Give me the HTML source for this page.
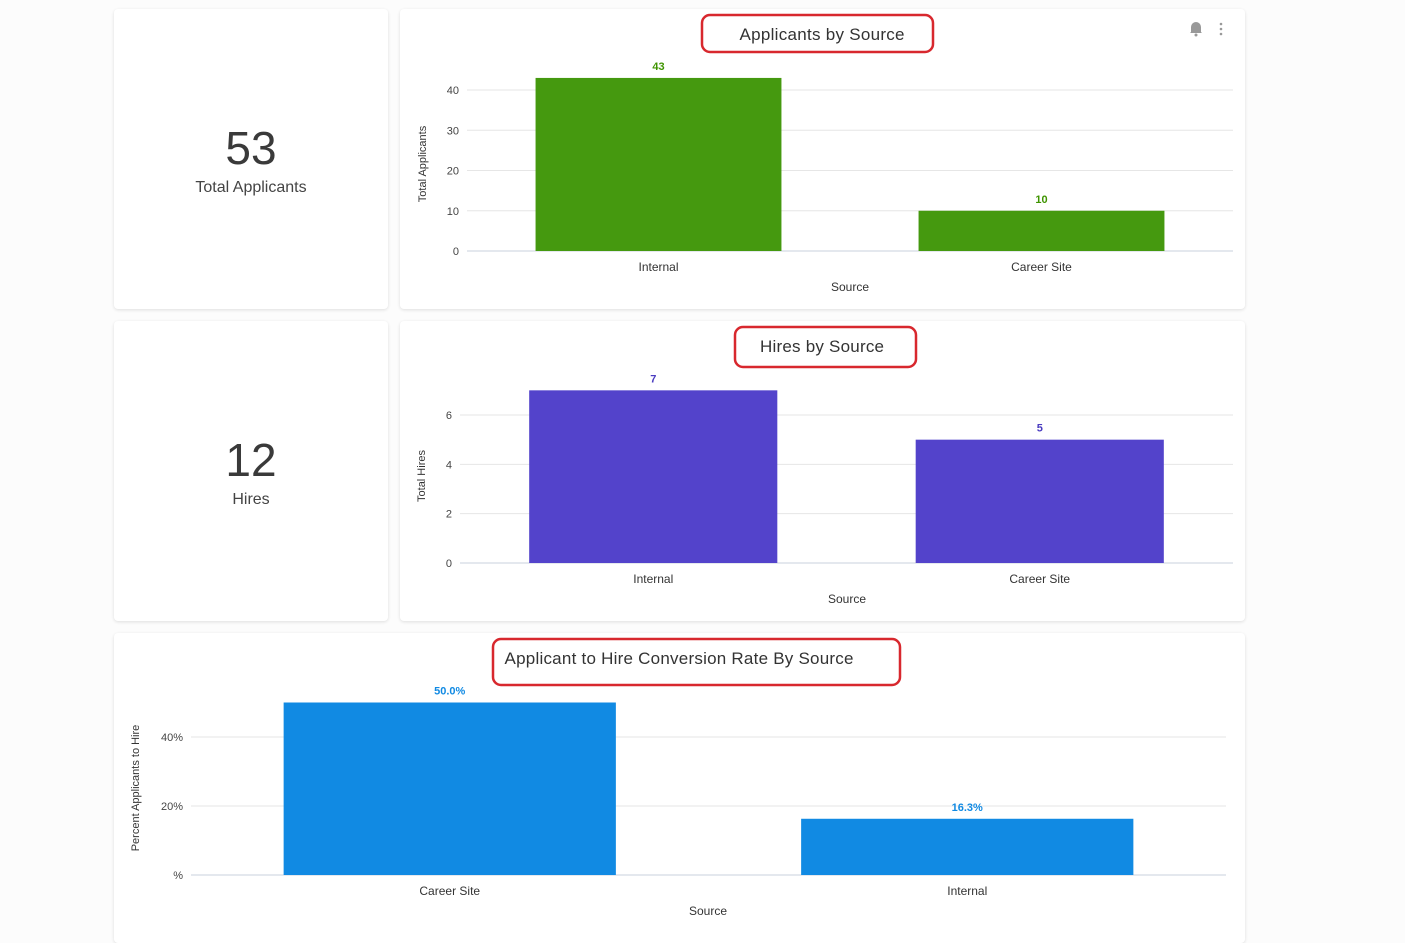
<!DOCTYPE html>
<html><head><meta charset="utf-8">
<style>
body{margin:0;width:1405px;height:927px;background:#fcfcfc;font-family:"Liberation Sans",sans-serif;overflow:hidden;position:relative}
.card{position:absolute;background:#fff;border-radius:4px;box-shadow:0 1px 3px rgba(0,0,0,0.12)}
.kpi{text-align:center;color:#333}
.kpi .num{font-size:46px;color:#3a3a3a;line-height:50px}
.kpi .lbl{font-size:16px;color:#444;margin-top:6px}
svg{position:absolute;left:0;top:0}
</style></head><body>
<div class="card kpi" style="left:114px;top:9px;width:274px;height:300px">
  <div class="num" style="margin-top:114px">53</div>
  <div class="lbl">Total Applicants</div>
</div>
<div class="card" style="left:400px;top:9px;width:845px;height:300px"></div>
<div class="card kpi" style="left:114px;top:321px;width:274px;height:300px">
  <div class="num" style="margin-top:114px">12</div>
  <div class="lbl">Hires</div>
</div>
<div class="card" style="left:400px;top:321px;width:845px;height:300px"></div>
<div class="card" style="left:114px;top:633px;width:1131px;height:310px"></div>

<svg id="s" width="1405" height="927" font-family="Liberation Sans, sans-serif">
  <rect x="702" y="15" width="231" height="37" rx="8" fill="none" stroke="#d8282e" stroke-width="2.5"/>
  <text x="822" y="40" text-anchor="middle" font-size="17" fill="#333" textLength="165">Applicants by Source</text>
  <rect x="735" y="327" width="181" height="40" rx="8" fill="none" stroke="#d8282e" stroke-width="2.5"/>
  <text x="822" y="352" text-anchor="middle" font-size="17" fill="#333" textLength="124">Hires by Source</text>
  <rect x="493" y="639" width="407" height="46" rx="8" fill="none" stroke="#d8282e" stroke-width="2.5"/>
  <text x="679" y="664" text-anchor="middle" font-size="17" fill="#333" textLength="349">Applicant to Hire Conversion Rate By Source</text>
  <g fill="#999">
    <path d="M1191 32 L1191 27 A5 5 0 0 1 1201 27 L1201 32 L1202 33 L1190 33 Z"/>
    <circle cx="1196" cy="35" r="1.5"/>
  </g>
  <g fill="#999">
    <circle cx="1221" cy="24" r="1.3"/><circle cx="1221" cy="29" r="1.3"/><circle cx="1221" cy="34" r="1.3"/>
  </g>
</svg>
<script>
const appCategories=["Internal","Career Site"];
const appValues=[43,10];
const appTicks=[0,10,20,30,40];
const hireCategories=["Internal","Career Site"];
const hireValues=[7,5];
const hireTicks=[0,2,4,6];
const convCategories=["Career Site","Internal"];
const convValues=[50.0,16.3];
const convTicks=[0,20,40];
const convTickLabels=["%","20%","40%"];
const convValueLabels=["50.0%","16.3%"];

const svg=document.getElementById('s');
const NS='http://www.w3.org/2000/svg';
function mk(tag,attrs,text){const e=document.createElementNS(NS,tag);for(const k in attrs)e.setAttribute(k,attrs[k]);if(text!==undefined)e.textContent=text;svg.appendChild(e);return e;}
function chart(o){
  const yS=v=>o.y0-(v/o.ymaxVal)*(o.y0-o.ymaxY);
  const band=(o.x1-o.x0)/o.cats.length;
  const xS=i=>o.x0+band*(i+0.5);
  o.ticks.forEach((t,i)=>{
    const l=mk('line',{x1:o.x0,x2:o.x1,y1:yS(t),y2:yS(t),stroke:t===0?'#c9d0dc':'#e6e6e6','stroke-width':1});
    
    
    const tx=mk('text',{x:o.x0-8,y:yS(t)+4,'text-anchor':'end','font-size':11,fill:'#444'},o.tickLabels?o.tickLabels[i]:t);
    
    
  });
  o.cats.forEach((c,i)=>{
    const v=o.vals[i];const w=band*o.bw;
    const r=mk('rect',{x:xS(i)-w/2,y:yS(v),width:w,height:o.y0-yS(v),fill:o.color});
    
    
    const vl=mk('text',{x:xS(i),y:yS(v)-8,'text-anchor':'middle','font-size':11,'font-weight':'bold',fill:o.labelColor},o.valLabels?o.valLabels[i]:v);
    
    
    const cl=mk('text',{x:xS(i),y:o.y0+20,'text-anchor':'middle','font-size':12,fill:'#333'},c);
    
    
  });
  const xt=mk('text',{x:o.xTitleX,y:o.y0+40,'text-anchor':'middle','font-size':12,fill:'#333'},'Source');
  
  
  const yt=mk('text',{x:0,y:0,'text-anchor':'middle','font-size':11,fill:'#333',transform:`translate(${o.yTitleX},${o.yTitleY}) rotate(-90)`},o.yTitle);
  
  
}
chart({name:'applicants',cats:appCategories,vals:appValues,ticks:appTicks,x0:467,x1:1233,y0:251,ymaxY:90,ymaxVal:40,bw:0.642,color:'#45990f',labelColor:'#3f9400',xTitleX:850,yTitle:'Total Applicants',yTitleX:426,yTitleY:164});
chart({name:'hires',cats:hireCategories,vals:hireValues,ticks:hireTicks,x0:460,x1:1233,y0:563,ymaxY:415,ymaxVal:6,bw:0.642,color:'#5343cb',labelColor:'#4a3cc0',xTitleX:847,yTitle:'Total Hires',yTitleX:425,yTitleY:476});
chart({name:'conversion',cats:convCategories,vals:convValues,ticks:convTicks,tickLabels:convTickLabels,valLabels:convValueLabels,x0:191,x1:1226,y0:875,ymaxY:737,ymaxVal:40,bw:0.642,color:'#118ae3',labelColor:'#118ae3',xTitleX:708,yTitle:'Percent Applicants to Hire',yTitleX:139,yTitleY:788});
</script>
</body></html>
